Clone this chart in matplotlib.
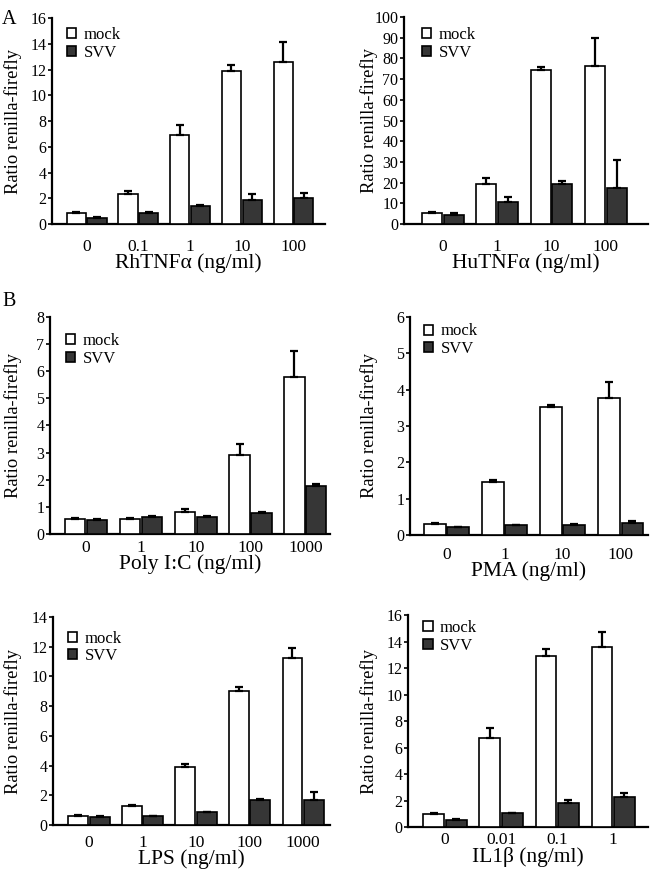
import matplotlib
matplotlib.use("Agg")
import matplotlib.pyplot as plt
import numpy as np
from matplotlib.patches import Patch

plt.rcParams['font.family'] = ['Liberation Serif', 'DejaVu Serif']

# --- data -----------------------------------------------------------------
rh_cats = ['0', '0.1', '1', '10', '100']
rh_mock = [0.85, 2.35, 6.95, 11.85, 12.55]
rh_mock_err = [0.12, 0.25, 0.75, 0.5, 1.55]
rh_svv = [0.5, 0.85, 1.4, 1.85, 2.05]
rh_svv_err = [0.03, 0.06, 0.06, 0.45, 0.38]

hu_cats = ['0', '1', '10', '100']
hu_mock = [5.2, 19.5, 74.5, 76.5]
hu_mock_err = [0.8, 2.5, 1.5, 13.5]
hu_svv = [4.4, 10.5, 19.2, 17.5]
hu_svv_err = [0.7, 2.7, 1.4, 13.5]

pic_cats = ['0', '1', '10', '100', '1000']
pic_mock = [0.56, 0.55, 0.8, 2.9, 5.8]
pic_mock_err = [0.04, 0.04, 0.11, 0.42, 0.95]
pic_svv = [0.52, 0.64, 0.61, 0.77, 1.76]
pic_svv_err = [0.03, 0.01, 0.07, 0.04, 0.1]

pma_cats = ['0', '1', '10', '100']
pma_mock = [0.3, 1.46, 3.52, 3.78]
pma_mock_err = [0.04, 0.05, 0.07, 0.43]
pma_svv = [0.22, 0.27, 0.28, 0.33]
pma_svv_err = [0.01, 0.01, 0.03, 0.06]

lps_cats = ['0', '1', '10', '100', '1000']
lps_mock = [0.6, 1.27, 3.93, 9.0, 11.25]
lps_mock_err = [0.08, 0.07, 0.15, 0.27, 0.68]
lps_svv = [0.53, 0.58, 0.85, 1.7, 1.7]
lps_svv_err = [0.06, 0.01, 0.01, 0.07, 0.52]

il_cats = ['0', '0.01', '0.1', '1']
il_mock = [0.95, 6.75, 12.9, 13.55]
il_mock_err = [0.1, 0.75, 0.52, 1.15]
il_svv = [0.55, 1.02, 1.82, 2.3]
il_svv_err = [0.08, 0.01, 0.2, 0.3]

DARK = '#363636'


def draw_panel(ax, cats, mock, mock_err, svv, svv_err, xlabel, ymax, ystep,
               xlim, xpad, ylabel_x, leg_xy):
    x = np.arange(len(cats))
    w = 0.37
    off = 0.2
    ax.bar(x - off, mock, width=w, color='white', edgecolor='black', linewidth=1.2, zorder=3)
    ax.bar(x + off, svv, width=w, color=DARK, edgecolor='black', linewidth=1.2, zorder=3)
    ax.errorbar(x - off, mock, yerr=[np.zeros(len(mock)), mock_err], fmt='none',
                ecolor='black', elinewidth=1.6, capsize=3, capthick=1.6, zorder=4)
    ax.errorbar(x + off, svv, yerr=[np.zeros(len(svv)), svv_err], fmt='none',
                ecolor='black', elinewidth=1.6, capsize=3, capthick=1.6, zorder=4)

    ax.set_xlim(*xlim)
    ax.set_ylim(0, ymax)
    ax.set_yticks(np.arange(0, ymax + ystep / 2, ystep))
    ax.set_xticks(x)
    ax.set_xticklabels(cats, fontsize=12.5)
    ax.tick_params(axis='x', length=0, pad=xpad)
    ax.tick_params(axis='y', direction='out', length=3, width=1.2, pad=1, labelsize=11.5)
    for s in ['top', 'right']:
        ax.spines[s].set_visible(False)
    for s in ['left', 'bottom']:
        ax.spines[s].set_linewidth(1.6)

    ax.set_xlabel(xlabel, fontsize=15.5, labelpad=-1)
    ax.set_ylabel('Ratio renilla-firefly', fontsize=13.3)
    ax.yaxis.set_label_coords(ylabel_x, 0.5)

    handles = [Patch(facecolor='white', edgecolor='black', linewidth=1.2),
               Patch(facecolor=DARK, edgecolor='black', linewidth=1.2)]
    ax.legend(handles, ['mock', 'SVV'], loc='upper left', bbox_to_anchor=leg_xy,
              frameon=False, fontsize=12, handlelength=0.55, handleheight=0.55,
              handletextpad=0.45, labelspacing=0.1, borderpad=0, borderaxespad=0)


def main():
    fig = plt.figure(figsize=(6.5, 8.71), dpi=100)

    ax1 = fig.add_axes([0.080, 0.7428, 0.420, 0.2365])
    ax2 = fig.add_axes([0.6215, 0.7428, 0.3754, 0.2377])
    ax3 = fig.add_axes([0.0769, 0.3869, 0.4308, 0.2492])
    ax4 = fig.add_axes([0.6308, 0.3858, 0.3660, 0.2503])
    ax5 = fig.add_axes([0.0815, 0.0528, 0.4262, 0.2388])
    ax6 = fig.add_axes([0.6277, 0.0505, 0.3692, 0.2434])

    draw_panel(ax1, rh_cats, rh_mock, rh_mock_err, rh_svv, rh_svv_err,
               'RhTNFα (ng/ml)', 16, 2, (-0.67, 4.61), 10.8, -0.11, (0.055, 0.955))
    draw_panel(ax2, hu_cats, hu_mock, hu_mock_err, hu_svv, hu_svv_err,
               'HuTNFα (ng/ml)', 100, 10, (-0.72, 3.78), 10.8, -0.105, (0.075, 0.95))
    draw_panel(ax3, pic_cats, pic_mock, pic_mock_err, pic_svv, pic_svv_err,
               'Poly I:C (ng/ml)', 8, 1, (-0.66, 4.45), 4.3, -0.10, (0.058, 0.925))
    draw_panel(ax4, pma_cats, pma_mock, pma_mock_err, pma_svv, pma_svv_err,
               'PMA (ng/ml)', 6, 1, (-0.63, 3.47), 8.6, -0.133, (0.06, 0.97))
    draw_panel(ax5, lps_cats, lps_mock, lps_mock_err, lps_svv, lps_svv_err,
               'LPS (ng/ml)', 14, 2, (-0.67, 4.5), 7.2, -0.112, (0.055, 0.935))
    draw_panel(ax6, il_cats, il_mock, il_mock_err, il_svv, il_svv_err,
               'IL1β (ng/ml)', 16, 2, (-0.66, 3.62), 3.6, -0.124, (0.064, 0.975))

    fig.text(0.003, 0.988, 'A', fontsize=14.5, va='top', ha='left')
    fig.text(0.003, 0.665, 'B', fontsize=14.5, va='top', ha='left')

    fig.savefig('out.png', dpi=100)
    plt.close(fig)


if __name__ == "__main__":
    main()
